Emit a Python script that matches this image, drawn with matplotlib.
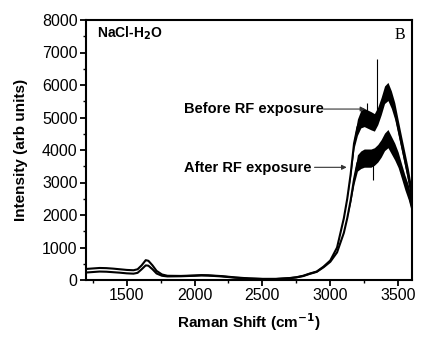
import matplotlib
matplotlib.use("Agg")
import matplotlib.pyplot as plt
import numpy as np

plt.rcParams['font.family'] = ['Liberation Sans', 'DejaVu Sans']

# Raman shift positions (cm^-1)
shift = [1200, 1250, 1300, 1350, 1400, 1450, 1500, 1550, 1580, 1610, 1640, 1660,
         1690, 1720, 1760, 1800, 1900, 2000, 2050, 2100, 2200, 2300, 2400, 2500,
         2600, 2700, 2750, 2800, 2850, 2900, 2950, 3000, 3050, 3100, 3125, 3150,
         3175, 3200, 3225, 3250, 3275, 3300, 3325, 3350, 3375, 3400, 3425, 3450,
         3475, 3500, 3525, 3550, 3575, 3600]

before = [340, 355, 370, 365, 350, 330, 310, 300, 330, 450, 610, 590,
          450, 280, 170, 130, 125, 140, 150, 145, 120, 80, 50, 35,
          35, 60, 85, 130, 200, 260, 410, 600, 1000, 1900, 2500, 3250,
          4200, 4700, 4950, 5000, 4950, 4900, 4850, 5050, 5350, 5700, 5800, 5550,
          5200, 4700, 4200, 3700, 3200, 2600]

after = [230, 245, 260, 255, 240, 225, 205, 195, 220, 330, 450, 440,
         330, 200, 130, 110, 115, 130, 140, 135, 110, 70, 45, 30,
         30, 55, 80, 120, 190, 250, 390, 560, 850, 1450, 1900, 2450,
         3100, 3600, 3700, 3750, 3750, 3750, 3800, 3900, 4050, 4250, 4350, 4150,
         3950, 3700, 3350, 3000, 2700, 2300]

# half-width of the noisy band seen on both spectra
noise = [0, 0, 0, 0, 0, 0, 0, 0, 0, 0, 0, 0,
         0, 0, 0, 0, 0, 0, 0, 0, 0, 0, 0, 0,
         0, 0, 0, 0, 0, 0, 0, 0, 0, 0, 0, 60,
         150, 250, 270, 280, 280, 280, 270, 270, 270, 270, 280, 270,
         260, 240, 230, 230, 230, 230]

# isolated spikes (x, from, to)
spike_x = [3347, 3315, 3270]
spike_from = [5000, 3750, 5000]
spike_to = [6800, 3080, 5450]

fig = plt.figure(figsize=(4.25, 3.4), dpi=100)
ax = fig.add_axes([86/425, 60/340, (411.7-86)/425, 260/340])

s = np.array(shift)
for y in (before, after):
    y = np.array(y)
    n = np.array(noise)
    ax.plot(s, y, color='black', lw=1.5, zorder=3)
    ax.fill_between(s, y - n, y + n, color='black', lw=0, zorder=3)
ax.vlines(spike_x, spike_from, spike_to, color='black', lw=0.8, zorder=3)

ax.set_xlim(1200, 3600)
ax.set_ylim(0, 8000)
ax.set_xticks([1500, 2000, 2500, 3000, 3500])
ax.set_xticks(np.arange(1250, 3600, 500), minor=True)
ax.set_yticks(np.arange(0, 8001, 1000))
ax.set_yticks(np.arange(500, 8000, 1000), minor=True)
ax.tick_params(which='major', direction='out', length=4, width=1.3, labelsize=11.5, pad=2)
ax.tick_params(which='minor', direction='out', length=2.5, width=1.0)
for sp in ax.spines.values():
    sp.set_linewidth(1.5)

ax.set_xlabel('Raman Shift (cm$^{\\mathbf{-1}}$)', fontsize=11, fontweight='bold', labelpad=6)
ax.set_ylabel('Intensity (arb units)', fontsize=11, fontweight='bold', labelpad=10)

ax.text(0.034, 0.95, 'NaCl-H$_\\mathbf{2}$O', transform=ax.transAxes, fontsize=10,
        fontweight='bold', va='center', ha='left')
ax.text(0.964, 0.942, 'B', transform=ax.transAxes, fontsize=11.5,
        family='Liberation Serif', va='center', ha='center')

arrow = dict(arrowstyle='-|>', color='#333333', lw=0.8, mutation_scale=7, shrinkA=0, shrinkB=0)
ax.text(1920, 5260, 'Before RF exposure', fontsize=10.5, fontweight='bold', va='center', ha='left')
ax.annotate('', xy=(3258, 5260), xytext=(2951, 5260), arrowprops=arrow)
ax.text(1920, 3440, 'After RF exposure', fontsize=10.5, fontweight='bold', va='center', ha='left')
ax.annotate('', xy=(3121, 3467), xytext=(2884, 3467), arrowprops=arrow)

fig.savefig('out.png', dpi=100)
